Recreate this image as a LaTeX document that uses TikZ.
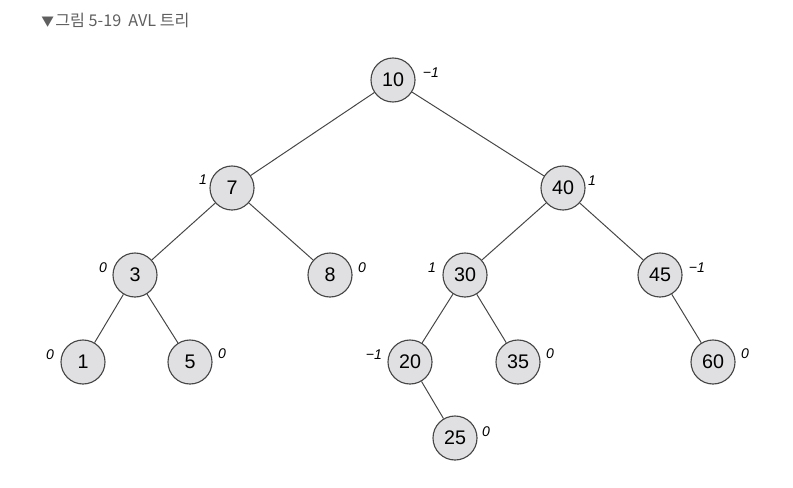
\documentclass[tikz,border=0pt]{standalone}
\usepackage{fontspec}
\setmainfont{Liberation Sans}
\newfontfamily\krfont{Noto Sans CJK KR}
\usetikzlibrary{positioning,calc}
\definecolor{NodeGray}{RGB}{224,224,226}
\definecolor{EdgeGray}{RGB}{70,70,70}
\definecolor{TitleGray}{RGB}{95,95,95}
\tikzset{
  treenode/.style={circle,draw=EdgeGray,fill=NodeGray,line width=0.8pt,
    minimum size=1.1cm,inner sep=0pt,font=\fontsize{14}{14}\selectfont},
  bal/.style={font=\fontsize{10}{10}\selectfont\itshape,inner sep=0pt},
  edge/.style={EdgeGray,line width=0.7pt}
}

\begin{document}
\begin{tikzpicture}[x=0.025cm,y=-0.025cm]
\useasboundingbox (0,0) rectangle (793,487);

% Title
\node[anchor=west,text=TitleGray,inner sep=0pt] (title) at (41,20)
  {\krfont\fontsize{11.5}{11.5}\selectfont{\fontsize{9}{9}\selectfont▼}\kern1pt 그림 5-19\ \ AVL 트리};

% Nodes
\foreach \v/\x/\y in {10/393/80,7/232/188,40/563/188,3/135/275,8/330/275,
  30/465/275,45/660/275,1/83/362,5/190/362,20/410/362,35/518/362,
  60/713/362,25/455/438}{
  \node[treenode] (n\v) at (\x,\y) {\v};
}

% Edges
\foreach \a/\b in {10/7,10/40,7/3,7/8,40/30,40/45,3/1,3/5,30/20,30/35,
  45/60,20/25}{
  \draw[edge] (n\a) -- (n\b);
}

% Balance factors
\foreach \v/\dx/\dy/\t in {10/38/-7/−1,7/-29/-8/1,40/29/-7/1,3/-32/-7/0,
  8/32/-7/0,30/-33/-7/1,45/37/-7/−1,1/-33/-7/0,5/32/-8/0,20/-36/-7/−1,
  35/32/-8/0,60/32/-8/0,25/31/-6/0}{
  \node[bal] (b\v) at ($(n\v)+(\dx,\dy)$) {\t};
}

\end{tikzpicture}
\end{document}
